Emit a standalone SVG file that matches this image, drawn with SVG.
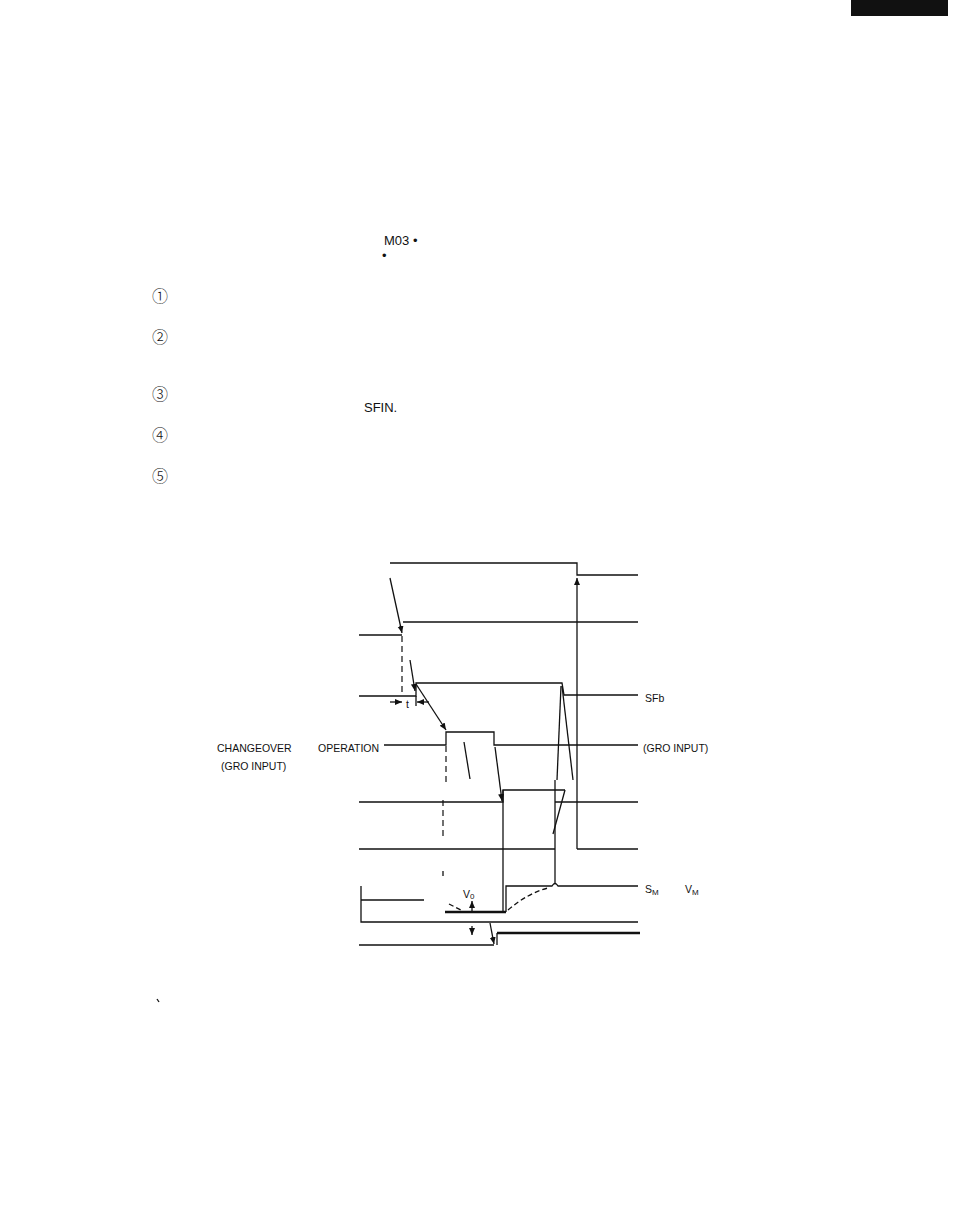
<svg xmlns="http://www.w3.org/2000/svg" width="954" height="1231" viewBox="0 0 954 1231">
<style>
.w{fill:none;stroke:#111;stroke-width:1.3}
.tk{fill:none;stroke:#111;stroke-width:2.6}
.d{fill:none;stroke:#111;stroke-width:1.2;stroke-dasharray:6 4}
.lb{font-family:"Liberation Sans",Arial,sans-serif;font-size:10.5px;fill:#111}
.tx{font-family:"Liberation Sans",Arial,sans-serif;font-size:13px;fill:#111}
.cn{font-family:"Noto Sans CJK JP","DejaVu Sans",sans-serif;font-size:16px;font-weight:300;fill:#111}
</style>
<defs>
<marker id="ah" markerUnits="userSpaceOnUse" markerWidth="8" markerHeight="8" refX="7" refY="3" orient="auto">
<path d="M0,0 L7,3 L0,6 Z" fill="#111"/>
</marker>
</defs>
<rect x="851" y="0" width="97" height="16" fill="#111"/>

<g id="text">
<text class="tx" x="384" y="245">M03 •</text>
<text class="tx" x="382" y="260">•</text>
<text class="cn" x="152" y="302">①</text>
<text class="cn" x="152" y="343">②</text>
<text class="cn" x="152" y="400">③</text>
<text class="cn" x="152" y="441">④</text>
<text class="cn" x="152" y="482">⑤</text>
<text class="tx" x="364" y="412" font-size="15">SFIN.</text>
<path d="M157,999 l2,3" class="w"/>
</g>

<g id="sig-top">
<path class="w" d="M390,563 H577 V575 H638"/>
</g>
<g id="sig-2">
<path class="w" d="M403,622 H638"/>
<path class="w" d="M359,635 H402"/>
</g>
<g id="sig-sfb">
<path class="w" d="M359,696 H416 V683 H562 L564,695 H638"/>
<text class="lb" x="645" y="702">SFb</text>
</g>
<g id="sig-gro">
<path class="w" d="M384,745 H446 V732 H494 V745 H638"/>
<text class="lb" x="217" y="752">CHANGEOVER</text>
<text class="lb" x="221" y="770">(GRO INPUT)</text>
<text class="lb" x="318" y="752">OPERATION</text>
<text class="lb" x="643" y="752">(GRO INPUT)</text>
</g>
<g id="sig-5">
<path class="w" d="M359,802 H503 V790 H565"/>
<path class="w" d="M555,802 H638"/>
</g>
<g id="sig-6">
<path class="w" d="M359,849 H555"/>
<path class="w" d="M577,849 H638"/>
</g>
<g id="sig-sm">
<path class="w" d="M506,912 V886 H552 Q555,881 558,886 H638"/>
<path class="tk" d="M445,912 H506"/>
<text class="lb" x="645" y="893">S<tspan font-size="8" dy="2">M</tspan></text>
<text class="lb" x="685" y="893">V<tspan font-size="8" dy="2">M</tspan></text>
<text class="lb" x="463" y="898">V<tspan font-size="8" dy="1">0</tspan></text>
</g>
<g id="sig-8">
<path class="w" d="M361,886 V922 H638"/>
<path class="w" d="M361,900 H424"/>
</g>
<g id="sig-9">
<path class="w" d="M359,945 H494"/>
<path class="w" d="M497,945 V933"/>
<path class="tk" d="M497,933 H640"/>
</g>

<g id="connectors">
<path class="w" d="M390,578 L402,633" marker-end="url(#ah)"/>
<path class="d" d="M402,636 V695"/>
<path class="w" d="M410,660 L415,691" marker-end="url(#ah)"/>
<path class="w" d="M416,684 L446,730" marker-end="url(#ah)"/>
<path class="w" d="M416,696 V706"/>
<path class="w" d="M390,702 H402" marker-end="url(#ah)"/>
<path class="w" d="M429,702 H417" marker-end="url(#ah)"/>
<text class="lb" x="406" y="708">t</text>
<path class="d" d="M446,746 V782"/>
<path class="d" d="M443,800 V836"/>
<path class="w" d="M443,871 V876"/>
<path class="w" d="M464,742 L470,779"/>
<path class="w" d="M495,747 L502,801" marker-end="url(#ah)"/>
<path class="w" d="M561,686 L557,780"/>
<path class="w" d="M562,686 L573,780"/>
<path class="w" d="M565,790 L553,834"/>
<path class="w" d="M555,780 V884"/>
<path class="w" d="M503,790 V912"/>
<path class="w" d="M577,849 V578" marker-end="url(#ah)"/>
<path class="w" d="M508,910 Q528,893 548,888" stroke-dasharray="5 3"/>
<path class="w" d="M449,904 L461,910" stroke-dasharray="5 3"/>
<path class="w" d="M472,912 V901" marker-end="url(#ah)"/>
<path class="w" d="M472,926 V935" marker-end="url(#ah)"/>
<path class="w" d="M490,923 L494,944" marker-end="url(#ah)"/>
</g>
</svg>
